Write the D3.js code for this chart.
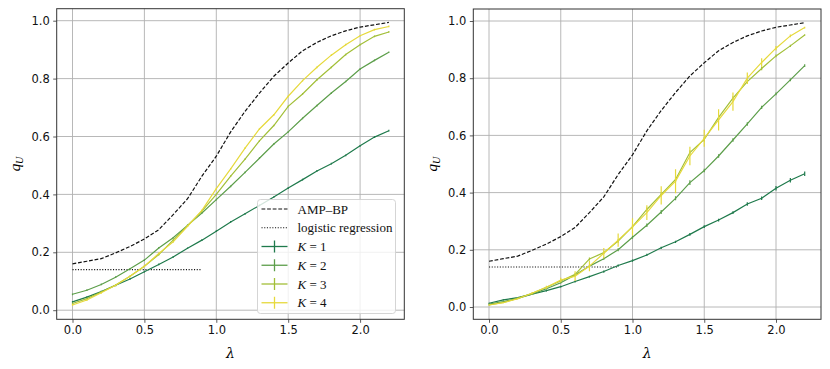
<!DOCTYPE html>
<html><head><meta charset="utf-8">
<script src="https://cdn.jsdelivr.net/npm/d3@7"></script>
<style>body{margin:0;background:#fff}svg{display:block}</style>
</head><body>
<svg id="c" width="830" height="369"></svg>
<script>
const lambdas = [0,0.1,0.2,0.3,0.4,0.5,0.6,0.7,0.8,0.9,1.0,1.1,1.2,1.3,1.4,1.5,1.6,1.7,1.8,1.9,2.0,2.1,2.2];
const ampBP = [0.160,0.169,0.178,0.198,0.220,0.246,0.278,0.330,0.385,0.463,0.532,0.616,0.687,0.750,0.808,0.854,0.896,0.925,0.948,0.965,0.978,0.986,0.994];
const logregLambdas = [0,0.9];
const logregValue = 0.14;
const seriesLabels = ["K = 1","K = 2","K = 3","K = 4"];
const seriesColors = ["#1f7a4c","#5c9e4a","#a2bf38","#e6d93c"];
// left panel
const leftK1 = [0.029,0.045,0.064,0.086,0.108,0.133,0.158,0.184,0.214,0.242,0.273,0.305,0.333,0.362,0.391,0.422,0.451,0.481,0.506,0.535,0.568,0.598,0.620];
const leftK2 = [0.055,0.069,0.089,0.114,0.143,0.173,0.215,0.250,0.293,0.336,0.382,0.428,0.476,0.525,0.574,0.616,0.663,0.707,0.750,0.790,0.833,0.863,0.891];
const leftK3 = [0.023,0.040,0.063,0.087,0.117,0.152,0.192,0.242,0.292,0.342,0.400,0.463,0.522,0.585,0.638,0.704,0.747,0.796,0.839,0.883,0.917,0.946,0.961];
const leftK4 = [0.018,0.035,0.060,0.086,0.117,0.152,0.196,0.236,0.290,0.345,0.420,0.488,0.560,0.626,0.675,0.739,0.793,0.839,0.881,0.917,0.948,0.969,0.980];
const leftErr = [0.003,0.003,0.003,0.003,0.003,0.003,0.003,0.003,0.003,0.003,0.003,0.003,0.003,0.003,0.003,0.003,0.003,0.003,0.003,0.003,0.003,0.003,0.003];
// right panel
const rightK1 = [0.013,0.025,0.033,0.045,0.057,0.071,0.089,0.106,0.124,0.145,0.162,0.182,0.207,0.228,0.254,0.281,0.304,0.330,0.360,0.380,0.415,0.443,0.466];
const rightK2 = [0.010,0.019,0.030,0.045,0.064,0.085,0.112,0.143,0.169,0.200,0.244,0.286,0.332,0.380,0.435,0.477,0.528,0.584,0.640,0.698,0.745,0.794,0.844];
const rightK3 = [0.007,0.016,0.030,0.048,0.069,0.091,0.114,0.168,0.190,0.231,0.281,0.341,0.394,0.446,0.540,0.586,0.663,0.730,0.788,0.834,0.878,0.913,0.951];
const rightK4 = [0.007,0.015,0.029,0.048,0.069,0.094,0.108,0.143,0.188,0.234,0.280,0.330,0.390,0.440,0.528,0.590,0.654,0.718,0.800,0.855,0.905,0.948,0.977];
const rightErrK1 = [0.002,0.002,0.002,0.002,0.003,0.003,0.003,0.003,0.004,0.004,0.004,0.004,0.004,0.004,0.005,0.005,0.005,0.005,0.006,0.006,0.008,0.008,0.008];
const rightErrK2 = [0.002,0.002,0.002,0.003,0.003,0.003,0.004,0.004,0.004,0.005,0.005,0.006,0.007,0.007,0.008,0.006,0.006,0.006,0.006,0.006,0.005,0.005,0.005];
const rightErrK3 = [0.002,0.002,0.002,0.003,0.003,0.004,0.004,0.005,0.005,0.006,0.006,0.007,0.007,0.008,0.008,0.008,0.008,0.007,0.006,0.006,0.005,0.004,0.003];
const rightErrK4 = [0.002,0.002,0.003,0.004,0.005,0.008,0.017,0.018,0.018,0.023,0.030,0.026,0.032,0.042,0.032,0.030,0.037,0.032,0.020,0.015,0.008,0.005,0.003];
const xTicks = [0,0.5,1.0,1.5,2.0];
const yTicks = [0,0.2,0.4,0.6,0.8,1.0];

const svg = d3.select("#c");
const panels = [
  {box:[56.7,8.7,404.3,319.3], x0:72.5, x2:360.1, y0:310.2, y1:20.7,
   series:[leftK1,leftK2,leftK3,leftK4], errs:[leftErr,leftErr,leftErr,leftErr], legend:true, ylabX:16},
  {box:[473.3,9,821,319.3], x0:489, x2:776, y0:307, y1:21,
   series:[rightK1,rightK2,rightK3,rightK4], errs:[rightErrK1,rightErrK2,rightErrK3,rightErrK4], legend:false, ylabX:433}
];

panels.forEach(p => {
  const [L,T,R,B] = p.box;
  const x = d3.scaleLinear().domain([0,2]).range([p.x0,p.x2]);
  const y = d3.scaleLinear().domain([0,1]).range([p.y0,p.y1]);
  const g = svg.append("g");
  // grid
  g.selectAll(".gx").data(xTicks).join("line")
    .attr("x1",d=>x(d)).attr("x2",d=>x(d)).attr("y1",T).attr("y2",B)
    .attr("stroke","#b0b0b0").attr("stroke-width",0.9);
  g.selectAll(".gy").data(yTicks).join("line")
    .attr("y1",d=>y(d)).attr("y2",d=>y(d)).attr("x1",L).attr("x2",R)
    .attr("stroke","#b0b0b0").attr("stroke-width",0.9);
  // axes
  const xa = d3.axisBottom(x).tickValues(xTicks).tickFormat(d3.format(".1f")).tickSize(3.5).tickPadding(3.5);
  const ya = d3.axisLeft(y).tickValues(yTicks).tickFormat(d3.format(".1f")).tickSize(3.5).tickPadding(3.5);
  const gx = g.append("g").attr("transform",`translate(0,${B})`).call(xa);
  const gy = g.append("g").attr("transform",`translate(${L},0)`).call(ya);
  [gx,gy].forEach(a=>{
    a.select(".domain").remove();
    a.selectAll("text").attr("font-family","DejaVu Sans").attr("font-size","11.5px").attr("fill","#111");
    a.selectAll("line").attr("stroke","#333").attr("stroke-width",0.8);
  });
  const clip = "clip"+L;
  svg.append("clipPath").attr("id",clip).append("rect").attr("x",L).attr("y",T).attr("width",R-L).attr("height",B-T);
  const plot = g.append("g").attr("clip-path",`url(#${clip})`);
  const line = d3.line().x(d=>x(d[0])).y(d=>y(d[1]));
  // AMP-BP
  plot.append("path").attr("d",line(lambdas.map((l,i)=>[l,ampBP[i]])))
    .attr("fill","none").attr("stroke","#111").attr("stroke-width",1.2).attr("stroke-dasharray","3.8,1.8");
  // logistic
  plot.append("path").attr("d",line(logregLambdas.map(l=>[l,logregValue])))
    .attr("fill","none").attr("stroke","#111").attr("stroke-width",1.1).attr("stroke-dasharray","1.1,1.6");
  // series
  p.series.forEach((s,k)=>{
    const c = seriesColors[k];
    plot.append("path").attr("d",line(lambdas.map((l,i)=>[l,s[i]])))
      .attr("fill","none").attr("stroke",c).attr("stroke-width",1.2);
    plot.selectAll(null).data(lambdas).join("line")
      .attr("x1",d=>x(d)).attr("x2",d=>x(d))
      .attr("y1",(d,i)=>y(s[i]-p.errs[k][i])).attr("y2",(d,i)=>y(s[i]+p.errs[k][i]))
      .attr("stroke",c).attr("stroke-width",1.2);
  });
  // spines
  g.append("rect").attr("x",L).attr("y",T).attr("width",R-L).attr("height",B-T)
    .attr("fill","none").attr("stroke","#333").attr("stroke-width",1);
  // labels
  g.append("text").attr("x",(L+R)/2).attr("y",358).attr("text-anchor","middle")
    .attr("font-family","DejaVu Serif").attr("font-style","italic").attr("font-size","14px").text("λ");
  const yl = g.append("text").attr("transform",`translate(${p.ylabX+4},${(T+B)/2}) rotate(-90)`)
    .attr("text-anchor","middle").attr("font-family","Liberation Serif").attr("font-style","italic").attr("font-size","15px");
  yl.append("tspan").text("q");
  yl.append("tspan").attr("font-size","10px").attr("dy",3).text("U");
  if (p.legend) {
    const lg = g.append("g");
    lg.append("rect").attr("x",257.5).attr("y",199.5).attr("width",138).attr("height",114).attr("rx",3)
      .attr("fill","#fff").attr("fill-opacity",0.8).attr("stroke","#d0d0d0").attr("stroke-width",0.9);
    const rowY = i => 209 + i*18.75;
    const items = [{t:"AMP–BP",dash:"3.8,1.8"},{t:"logistic regression",dash:"1.1,1.6"}]
      .concat(seriesLabels.map((t,k)=>({t, color:seriesColors[k]})));
    items.forEach((it,i)=>{
      const yy = rowY(i);
      lg.append("line").attr("x1",261.5).attr("x2",287.5).attr("y1",yy).attr("y2",yy)
        .attr("stroke",it.color||"#111").attr("stroke-width",it.color?1.3:1.2).attr("stroke-dasharray",it.dash||null);
      if (it.color) lg.append("line").attr("x1",274.5).attr("x2",274.5).attr("y1",yy-6).attr("y2",yy+6)
        .attr("stroke",it.color).attr("stroke-width",1.3);
      const tx = lg.append("text").attr("x",297.5).attr("y",yy+4.5)
        .attr("font-family","Liberation Serif").attr("font-size","13px").attr("fill","#111");
      if (it.color) {
        const parts = it.t.split(" = ");
        tx.append("tspan").attr("font-style","italic").text(parts[0]);
        tx.append("tspan").text(" = "+parts[1]);
      } else tx.text(it.t);
    });
  }
});
</script>
</body></html>
